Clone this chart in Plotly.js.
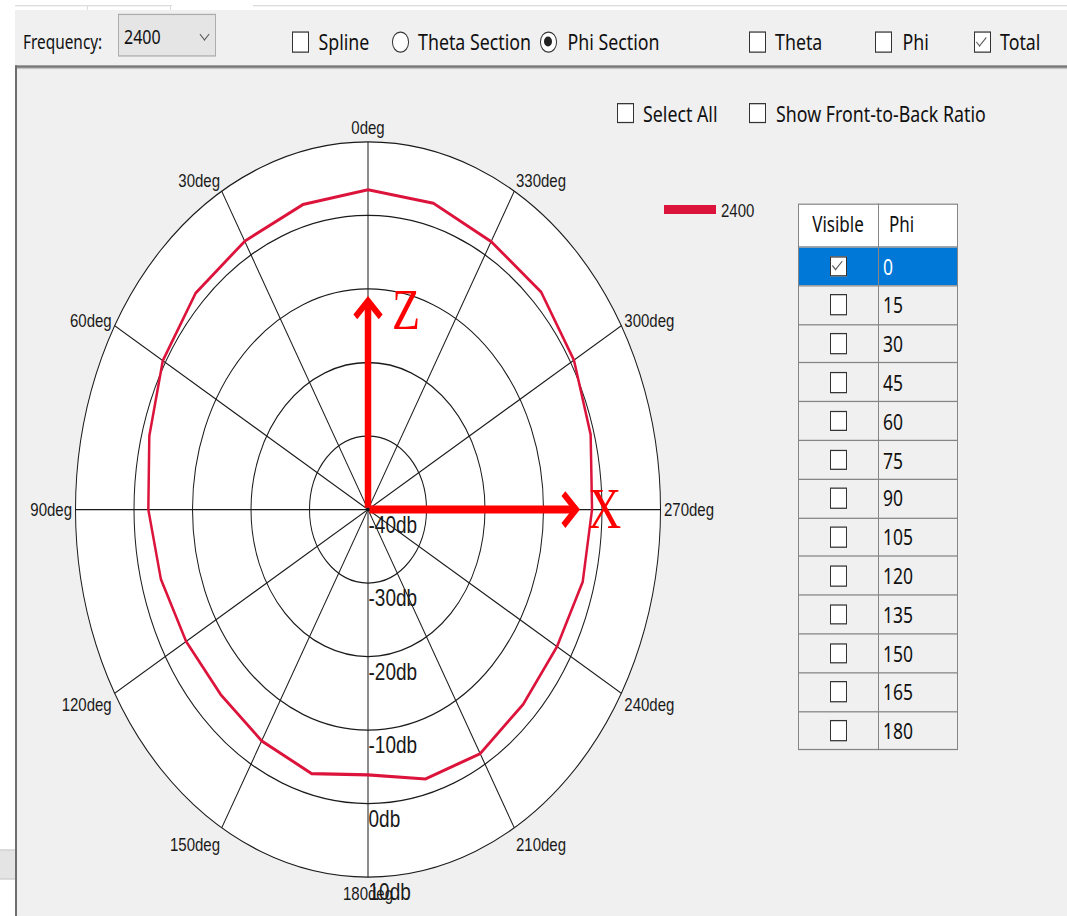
<!DOCTYPE html>
<html><head><meta charset="utf-8">
<script src="https://cdn.plot.ly/plotly-3.0.1.min.js"></script>
<style>
html,body{margin:0;padding:0;width:1067px;height:916px;overflow:hidden;background:#fff}
#page{position:absolute;left:0;top:0;width:1067px;height:729px;transform:scaleY(1.2565);transform-origin:0 0;font-family:"Noto Sans",sans-serif;color:#111}
.a{position:absolute}
.cb{position:absolute;width:17px;height:16.5px;border:1px solid #333;background:#fff;box-sizing:border-box}
.rb{position:absolute;width:16.5px;height:16.5px;border:1px solid #333;background:#fff;box-sizing:border-box;border-radius:50%}
.lbl{position:absolute;font-size:17.8px;line-height:24px;height:24px;white-space:nowrap}
.ck{position:absolute;left:4.8px;top:0.8px;width:4px;height:8.5px;border-right:1.3px solid #555;border-bottom:1.3px solid #555;transform:rotate(45deg)}
#plot{position:absolute;left:0;top:0;width:1067px;height:729px;z-index:2}
#tbl{position:absolute;left:798px;top:162.4px;width:160px;height:434.6px;z-index:3;font-size:17px}
#tbl .t{position:absolute;white-space:nowrap}
</style></head><body>
<div id="page">
  <div class="a" style="left:0;top:0;width:1067px;height:729px;background:#fff"></div>
  <div class="a" style="left:15px;top:4px;width:157px;height:1px;background:#dcdcdc"></div>
  <div class="a" style="left:253px;top:4px;width:814px;height:1px;background:#dcdcdc"></div>
  <div class="a" style="left:87px;top:4px;width:1px;height:4px;background:#dcdcdc"></div>
  <div class="a" style="left:170px;top:4px;width:1px;height:4px;background:#dcdcdc"></div>
  <div class="a" style="left:15px;top:8px;width:1052px;height:44px;background:#f0f0f0"></div>
  <div class="a" style="left:15px;top:52px;width:1052px;height:677px;background:#f0f0f0"></div>
  <div class="a" style="left:15px;top:52px;width:1052px;height:1.6px;background:#767676"></div>
  <div class="a" style="left:15px;top:53.6px;width:1052px;height:1px;background:#c4c4c4"></div>
  <div class="a" style="left:15px;top:52px;width:1.6px;height:677px;background:#6e6e6e"></div>
  <div class="a" style="left:0;top:676px;width:15px;height:22px;background:#e4e4e4;border-top:1px solid #d0d0d0;border-bottom:1px solid #d0d0d0"></div>

  <div class="lbl" style="left:23px;top:21.5px;font-size:15.4px">Frequency:</div>
  <div class="a" style="left:118px;top:11.1px;width:98px;height:33.5px;background:#e5e5e5;border:1px solid #adadad;box-sizing:border-box"></div>
  <div class="lbl" style="left:124px;top:16.5px;font-size:16px">2400</div>
  <div class="a" style="left:201px;top:23.5px;width:6px;height:6px;border-right:1px solid #555;border-bottom:1px solid #555;transform:rotate(45deg)"></div>

  <div class="cb" style="left:292px;top:25.2px"></div>
  <div class="lbl" style="left:318.5px;top:21.4px">Spline</div>
  <div class="rb" style="left:392px;top:25.2px"></div>
  <div class="lbl" style="left:418px;top:21.4px">Theta Section</div>
  <div class="rb" style="left:540px;top:25.2px"><div class="a" style="left:3.2px;top:3.2px;width:8px;height:8px;border-radius:50%;background:#222"></div></div>
  <div class="lbl" style="left:567.5px;top:21.4px">Phi Section</div>
  <div class="cb" style="left:748.5px;top:25.2px"></div>
  <div class="lbl" style="left:775px;top:21.4px">Theta</div>
  <div class="cb" style="left:875px;top:25.2px"></div>
  <div class="lbl" style="left:902.5px;top:21.4px">Phi</div>
  <div class="cb" style="left:973.5px;top:25.2px"><div class="ck"></div></div>
  <div class="lbl" style="left:1000px;top:21.4px">Total</div>

  <div class="cb" style="left:616.5px;top:81.7px"></div>
  <div class="lbl" style="left:643px;top:77.9px">Select All</div>
  <div class="cb" style="left:749px;top:81.7px"></div>
  <div class="lbl" style="left:776px;top:77.9px">Show Front-to-Back Ratio</div>

  <div id="plot"></div>
  <div id="tbl"></div>
</div>
<script>
// ---- data ----
const angles = [0,15,30,45,60,75,90,105,120,135,150,165,180,195,210,225,240,255,270,285,300,315,330,345];
const gainDb = [3.5,2.95,2.15,1.65,0.5,-1.3,-2.45,-3.35,-4.1,-4.4,-3.65,-2.8,-3.9,-2.05,-1.65,-2.5,-2.7,-2.0,-1.7,-0.6,0.65,1.85,2.1,3.15];
const ringTicks = [-40,-30,-20,-10,0,10];
const ringLabels = ['-40db','-30db','-20db','-10db','0db','10db'];
const angleTicks = [0,30,60,90,120,150,180,210,240,270,300,330];
const angleLabels = ['0deg','30deg','60deg','90deg','120deg','150deg','180deg','210deg','240deg','270deg','300deg','330deg'];
const seriesName = '2400';
const tableHeaders = ['Visible','Phi'];
const phiValues = [0,15,30,45,60,75,90,105,120,135,150,165,180];
const phiVisible = [true,false,false,false,false,false,false,false,false,false,false,false,false];

// ---- layout geometry ----
const W = 1067, H = 729;
const cx = 368, cy = 405.5, R = 292.5;
const rMin = -40, rMax = 10, rMax2 = 14;
const R2 = R * (rMax2 - rMin) / (rMax - rMin);
const labelShift = 2.1;
function dom(r){ return {x:[(cx-r)/W,(cx+r)/W], y:[(H-cy-r)/H,(H-cy+r)/H]}; }

const red = '#dc143c';
const thetaClosed = angles.concat([angles[0]]);
const rClosed = gainDb.concat([gainDb[0]]);

const traces = [
  {type:'scatterpolar', subplot:'polar', r:rClosed, theta:thetaClosed, mode:'lines',
   line:{color:red, width:2.5}, showlegend:false, hoverinfo:'skip'},
  {type:'scatterpolar', subplot:'polar', r:[null], theta:[null], mode:'lines',
   line:{color:red, width:7}, name:seriesName, showlegend:true, hoverinfo:'skip'},
  {type:'scatterpolar', subplot:'polar2', r:[], theta:[], mode:'lines', showlegend:false, hoverinfo:'skip'}
];

const layout = {
  width:W, height:H, margin:{l:0,r:0,t:0,b:0},
  paper_bgcolor:'rgba(0,0,0,0)',
  font:{family:'"Liberation Sans", Arial, sans-serif', color:'#1a1a1a'},
  showlegend:true,
  legend:{x:659/W, y:(H-167)/H, xanchor:'left', yanchor:'middle', bgcolor:'rgba(0,0,0,0)',
          font:{size:15}, itemwidth:52},
  polar:{
    domain:dom(R), bgcolor:'#ffffff',
    angularaxis:{rotation:90, direction:'counterclockwise', tickmode:'array',
      tickvals:angleTicks, ticktext:angleLabels, showline:true, linecolor:'#1a1a1a', linewidth:1,
      gridcolor:'#1a1a1a', gridwidth:1, ticks:'', tickfont:{size:15}},
    radialaxis:{range:[rMin,rMax], tickmode:'array', tickvals:ringTicks, showticklabels:false,
      showline:false, gridcolor:'#1a1a1a', gridwidth:1, ticks:''}
  },
  polar2:{
    domain:dom(R2), bgcolor:'rgba(0,0,0,0)',
    angularaxis:{visible:false, rotation:90, direction:'counterclockwise'},
    radialaxis:{range:[rMin,rMax2], angle:-90, tickangle:-90, side:'counterclockwise',
      tickmode:'array', tickvals:ringTicks.map(v=>v+labelShift), ticktext:ringLabels,
      showgrid:false, showline:false, ticks:'', tickfont:{size:19, color:'#1a1a1a'}}
  },
  annotations:[
    {xref:'paper', yref:'paper', x:cx/W, y:(H-235.6)/H, ax:0, ay:170, text:'', showarrow:true,
     arrowhead:4, arrowsize:0.75, arrowwidth:6.5, arrowcolor:'#ff0000', standoff:0},
    {xref:'paper', yref:'paper', x:580/W, y:(H-cy)/H, ax:-212, ay:0, text:'', showarrow:true,
     arrowhead:4, arrowsize:0.75, arrowwidth:6.5, arrowcolor:'#ff0000', standoff:0},
    {xref:'paper', yref:'paper', x:406/W, y:(H-246)/H, text:'Z', showarrow:false,
     font:{family:'"Liberation Serif", "Times New Roman", serif', size:46, color:'#ff0000'}},
    {xref:'paper', yref:'paper', x:604.5/W, y:(H-404.3)/H, text:'X', showarrow:false,
     font:{family:'"Liberation Serif", "Times New Roman", serif', size:46, color:'#ff0000'}}
  ]
};
Plotly.newPlot('plot', traces, layout, {staticPlot:true, displayModeBar:false});

// ---- Visible / Phi list (UI widget) ----
(function(){
  const colW = 80, hdrH = 34.2, rowH = 30.8, line = '#858585';
  const totalH = hdrH + phiValues.length*rowH;
  let h = '';
  h += `<div class="a" style="left:0;top:0;width:160px;height:${hdrH}px;background:#fff"></div>`;
  h += `<div class="t" style="left:0;top:0;width:${colW}px;height:${hdrH}px;line-height:${hdrH}px;text-align:center">${tableHeaders[0]}</div>`;
  h += `<div class="t" style="left:${colW+11}px;top:0;height:${hdrH}px;line-height:${hdrH}px">${tableHeaders[1]}</div>`;
  phiValues.forEach((v,i)=>{
    const top = hdrH + i*rowH, sel = phiVisible[i];
    h += `<div class="a" style="left:0;top:${top}px;width:160px;height:${rowH}px;background:${sel?'#0078d7':'#f0f0f0'}"></div>`;
    h += `<div class="cb" style="left:${colW/2-8.5}px;top:${top+rowH/2-8.3}px">${sel?'<div class="ck"></div>':''}</div>`;
    h += `<div class="t" style="left:${colW+5}px;top:${top}px;height:${rowH}px;line-height:${rowH+1}px;font-size:17.5px;color:${sel?'#fff':'#111'}">${v}</div>`;
    h += `<div class="a" style="left:0;top:${top-0.5}px;width:160px;height:1px;background:${line}"></div>`;
  });
  h += `<div class="a" style="left:${colW-0.5}px;top:0;width:1px;height:${totalH}px;background:${line}"></div>`;
  h += `<div class="a" style="left:0;top:0;width:160px;height:${totalH}px;border:1px solid ${line};box-sizing:border-box"></div>`;
  document.getElementById('tbl').innerHTML = h;
})();
</script>
</body></html>
